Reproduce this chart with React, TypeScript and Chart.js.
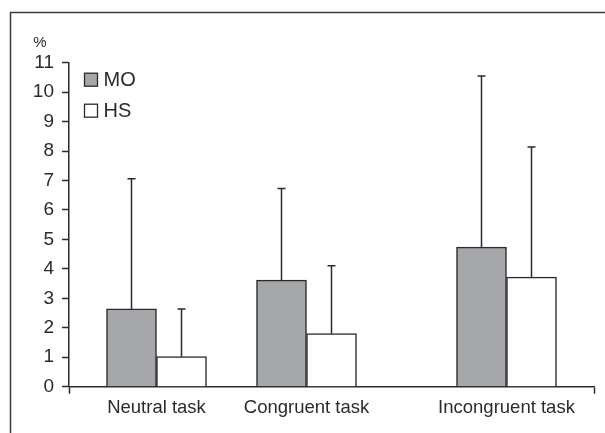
import React, { useEffect, useRef } from "react";
import { Chart, registerables } from "chart.js";

Chart.register(...registerables);

// Task conditions and where each group sits on the horizontal axis
const categories = ["Neutral task", "Congruent task", "Incongruent task"];
const groupPositions = [3.5, 9.5, 17.5];
const xMin = 0;
const xMax = 21;

// Group means (%) and their standard deviations
const moMeans = [2.64, 3.62, 4.74];
const moSD = [4.42, 3.11, 5.81];
const hsMeans = [1.02, 1.8, 3.72];
const hsSD = [1.62, 2.31, 4.42];

const yTicks = [0, 1, 2, 3, 4, 5, 6, 7, 8, 9, 10, 11];

const FONT = "'Liberation Sans', Arial, Helvetica, sans-serif";
const INK = "#2b2b2b";
const GREY = "#a6a7aa";

const errorBars = {
  id: "errorBars",
  afterDatasetsDraw(chart: any) {
    const { ctx } = chart;
    const yScale = chart.scales.y;
    chart.data.datasets.forEach((ds: any, di: number) => {
      const meta = chart.getDatasetMeta(di);
      meta.data.forEach((el: any, i: number) => {
        const sd = ds.sd[i];
        const top = yScale.getPixelForValue(ds.data[i].y + sd);
        ctx.save();
        ctx.strokeStyle = INK;
        ctx.lineWidth = 1.5;
        ctx.beginPath();
        ctx.moveTo(el.x, el.y);
        ctx.lineTo(el.x, top);
        ctx.moveTo(el.x - 4, top);
        ctx.lineTo(el.x + 4, top);
        ctx.stroke();
        ctx.restore();
      });
    });
  },
};

const decorations = {
  id: "decorations",
  beforeDraw(chart: any) {
    const { ctx, height } = chart;
    ctx.save();
    ctx.strokeStyle = "#3a3a3a";
    ctx.lineWidth = 1.5;
    ctx.beginPath();
    ctx.moveTo(10.5, height);
    ctx.lineTo(10.5, 12.5);
    ctx.lineTo(chart.width, 12.5);
    ctx.stroke();
    ctx.restore();
  },
  afterDraw(chart: any) {
    const { ctx, chartArea } = chart;
    ctx.save();
    // unit label above the y axis
    ctx.fillStyle = INK;
    ctx.font = `15px ${FONT}`;
    ctx.textAlign = "center";
    ctx.textBaseline = "middle";
    ctx.fillText("%", 40, 43);

    // legend in the upper-left corner of the plot
    const items = chart.data.datasets.map((d: any) => ({
      label: d.label,
      fill: d.backgroundColor,
    }));
    const bx = chartArea.left + 15.5;
    let by = chartArea.top + 10.5;
    items.forEach((it: any) => {
      ctx.fillStyle = it.fill;
      ctx.fillRect(bx, by, 13, 13);
      ctx.strokeStyle = INK;
      ctx.lineWidth = 1.3;
      ctx.strokeRect(bx, by, 13, 13);
      ctx.fillStyle = INK;
      ctx.font = `20px ${FONT}`;
      ctx.textAlign = "left";
      ctx.textBaseline = "alphabetic";
      ctx.fillText(it.label, bx + 19, by + 13);
      by += 31;
    });
    ctx.restore();
  },
};

export default function App() {
  const ref = useRef<HTMLCanvasElement>(null);

  useEffect(() => {
    if (!ref.current) return;
    const chart = new Chart(ref.current, {
      type: "bar",
      data: {
        datasets: [
          {
            label: "MO",
            data: groupPositions.map((p, i) => ({ x: p - 1, y: moMeans[i] })),
            sd: moSD,
            backgroundColor: GREY,
            borderColor: INK,
            borderWidth: 1.5,
          } as any,
          {
            label: "HS",
            data: groupPositions.map((p, i) => ({ x: p + 1, y: hsMeans[i] })),
            sd: hsSD,
            backgroundColor: "#ffffff",
            borderColor: INK,
            borderWidth: 1.5,
          } as any,
        ],
      },
      options: {
        animation: false,
        responsive: true,
        maintainAspectRatio: false,
        layout: { padding: { left: 0, right: 11, top: 62.7, bottom: 0 } },
        datasets: {
          bar: {
            grouped: false,
            categoryPercentage: 1,
            barPercentage: 1,
          },
        },
        plugins: {
          legend: { display: false },
          tooltip: { enabled: false },
        },
        scales: {
          x: {
            type: "linear",
            min: xMin,
            max: xMax,
            offset: false,
            afterBuildTicks: (axis: any) => {
              axis.ticks = [xMin, ...groupPositions, xMax].map((v) => ({ value: v }));
            },
            afterFit: (axis: any) => {
              axis.height = 46.3;
            },
            ticks: {
              autoSkip: false,
              maxRotation: 0,
              padding: 3,
              color: INK,
              font: { family: FONT, size: 18.5 },
              callback: (v: any) => {
                const i = groupPositions.indexOf(Number(v));
                return i >= 0 ? categories[i] : "";
              },
            },
            grid: {
              offset: false,
              drawOnChartArea: false,
              drawTicks: true,
              tickLength: 7,
              tickWidth: 1.5,
              tickColor: (c: any) =>
                c.tick && (c.tick.value === xMin || c.tick.value === xMax) ? INK : "rgba(0,0,0,0)",
            },
            border: { display: true, color: INK, width: 1.5 },
          },
          y: {
            min: 0,
            max: 11,
            afterBuildTicks: (axis: any) => {
              axis.ticks = yTicks.map((v) => ({ value: v }));
            },
            afterFit: (axis: any) => {
              axis.width = 69;
            },
            ticks: {
              padding: 8,
              color: INK,
              font: { family: FONT, size: 19 },
            },
            grid: {
              drawOnChartArea: false,
              drawTicks: true,
              tickLength: 7,
              tickWidth: 1.5,
              tickColor: INK,
            },
            border: { display: true, color: INK, width: 1.5 },
          },
        },
      },
      plugins: [errorBars, decorations],
    } as any);
    return () => chart.destroy();
  }, []);

  return (
    <div style={{ position: "absolute", left: 0, top: 0, width: 605, height: 433, background: "#fff" }}>
      <canvas ref={ref} />
    </div>
  );
}
